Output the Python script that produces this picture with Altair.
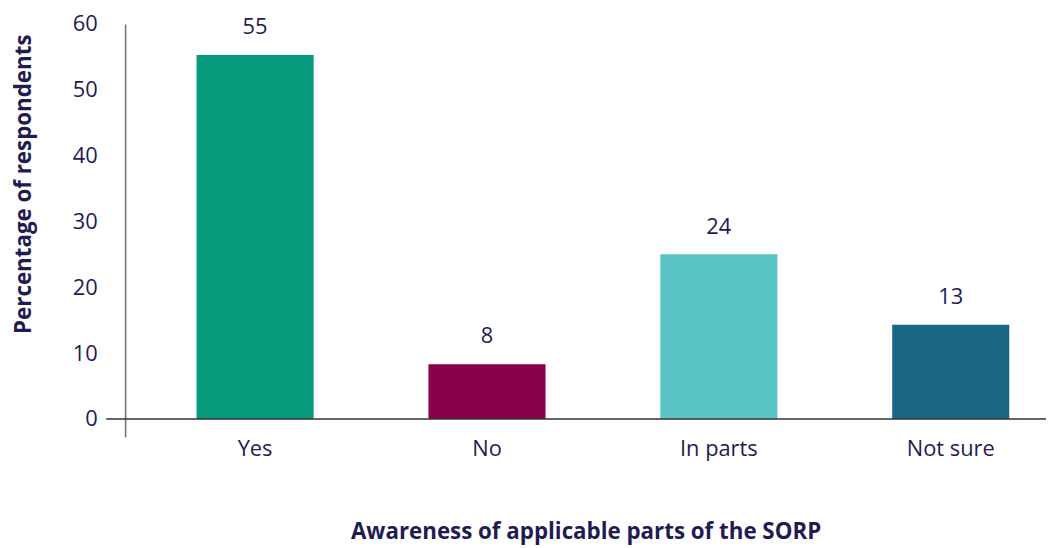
import altair as alt
import pandas as pd

categories = ["Yes", "No", "In parts", "Not sure"]
values = [55.3, 8.3, 25.0, 14.3]
labels = ["55", "8", "24", "13"]
colors = ["#089a7c", "#8a004a", "#5bc4c4", "#1b6585"]
y_ticks = [0, 10, 20, 30, 40, 50, 60]

df = pd.DataFrame({"cat": categories, "val": values, "label": labels})
zero_df = pd.DataFrame({"val": [0]})

FONT = "Open Sans"
TEXT = "#1f1c52"
FS = 22
TFS = 22.5
W, H = 928, 416

x_enc = alt.X(
    "cat:N",
    sort=categories,
    title="Awareness of applicable parts of the SORP",
    scale=alt.Scale(range=[72, 891], paddingInner=0.495, paddingOuter=0),
    axis=alt.Axis(
        labelAngle=0, domain=False, ticks=False, labelPadding=2,
        labelFontSize=FS, labelColor=TEXT, labelFont=FONT,
        titleFont=FONT, titleFontSize=TFS, titleFontWeight="bold",
        titleColor=TEXT, titlePadding=62, titleX=W / 2, titleAlign="center",
        titleAnchor="middle",
    ),
)
y_scale = alt.Scale(domain=[-2.71, 60], nice=False, zero=False)
y_enc = alt.Y(
    "val:Q",
    scale=y_scale,
    title="Percentage of respondents",
    axis=alt.Axis(
        values=y_ticks, grid=False, ticks=False, domainColor="#777777",
        domainWidth=1.6, labelPadding=28, labelFontSize=FS, labelColor=TEXT,
        labelFont=FONT, titleFont=FONT, titleFontSize=TFS, titleFontWeight="bold",
        titleColor=TEXT, titleX=-102, titleY=161, titleAngle=-90,
        titleAlign="center", titleBaseline="middle",
    ),
)

bars = alt.Chart(df).mark_bar().encode(
    x=x_enc,
    y=y_enc,
    y2=alt.datum(0),
    color=alt.Color("cat:N", scale=alt.Scale(domain=categories, range=colors), legend=None),
)

text = alt.Chart(df).mark_text(
    dy=-21, baseline="alphabetic", fontSize=FS, font=FONT, color=TEXT
).encode(x=alt.X("cat:N", sort=categories), y=alt.Y("val:Q"), text="label:N")

zero = alt.Chart(zero_df).mark_rule(color="#333333", strokeWidth=1.5).encode(
    y=alt.Y("val:Q"), x=alt.value(-19), x2=alt.value(W)
)

chart = (
    alt.layer(bars, zero, text)
    .properties(
        width=W, height=H,
        autosize=alt.AutoSizeParams(type="none"),
        padding={"left": 118, "top": 14, "right": 0, "bottom": 110},
    )
    .configure_view(stroke=None)
)

chart.save("out.html", embed_options={"renderer": "svg", "actions": False})
